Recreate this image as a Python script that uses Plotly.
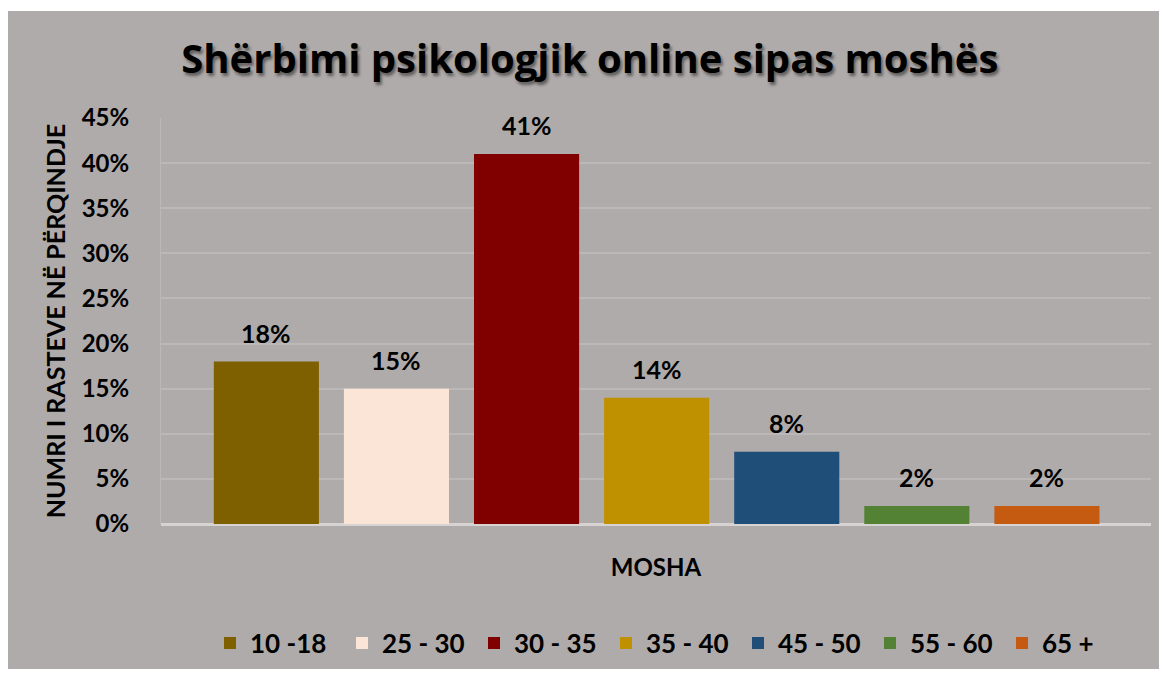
import plotly.graph_objects as go

# age groups and share of cases (%)
age_groups = ["10 -18", "25 - 30", "30 - 35", "35 - 40", "45 - 50", "55 - 60", "65 +"]
shares = [18, 15, 41, 14, 8, 2, 2]
colors = ["#7f6000", "#fbe5d6", "#800000", "#bf9000", "#1f4e79", "#548235", "#c55a11"]
y_ticks = [0, 5, 10, 15, 20, 25, 30, 35, 40, 45]

FONT = "Lato"
BG = "#afabaa"

# figure sits 8px in from the page corner (body margin)
W, H = 1159, 671
pl, pr, pt, pb = 153, 1143, 110, 516
pw, ph = pr - pl, pb - pt

fig = go.Figure()

for i, (name, val, col) in enumerate(zip(age_groups, shares, colors)):
    fig.add_trace(go.Bar(
        x=[i],
        y=[val],
        name=name,
        width=0.808,
        marker=dict(color=col, line=dict(width=0)),
        hoverinfo="name+y",
    ))
    # data label above each bar
    fig.add_annotation(
        x=i, y=val, text=f"{val}%",
        showarrow=False, yanchor="bottom", yshift=12,
        font=dict(family=FONT, size=25, color="black", weight="bold"),
    )

# grey chart area with white frame around it
fig.add_shape(
    type="rect", xref="paper", yref="paper", layer="below",
    x0=(-2 - pl) / pw, x1=(1152 - pl) / pw,
    y0=(pb - 661) / ph, y1=(pb - 3) / ph,
    fillcolor=BG, line=dict(width=0),
)

fig.update_layout(
    width=W,
    height=H,
    margin=dict(l=pl, r=W - pr, t=pt, b=H - pb),
    paper_bgcolor="white",
    plot_bgcolor="rgba(0,0,0,0)",
    barmode="overlay",
    title=dict(
        text="Shërbimi psikologjik online sipas moshës",
        x=0.502, xanchor="center", y=1 - 51 / H, yanchor="middle",
        font=dict(family="Open Sans", size=40, color="black", weight="bold",
                  shadow="2px 3px 3px rgba(0,0,0,0.45)"),
    ),
    xaxis=dict(
        range=[-0.81, 6.80],
        showticklabels=False,
        showgrid=False,
        zeroline=False,
        showline=False,
        title=dict(text="MOSHA", standoff=35,
                   font=dict(family=FONT, size=24, color="black", weight="bold")),
    ),
    yaxis=dict(
        range=[0, 45],
        tickvals=y_ticks,
        ticktext=[f"{t}%" for t in y_ticks],
        tickfont=dict(family=FONT, size=24, color="black", weight="bold"),
        ticks="outside", ticklen=26, tickcolor="rgba(0,0,0,0)",
        gridcolor="#bcb8b7", gridwidth=1.5,
        zeroline=True, zerolinecolor="#d6d3d2", zerolinewidth=3,
        showline=True, linecolor="#bcb8b7", linewidth=1,
        title=dict(text="NUMRI I RASTEVE NË PËRQINDJE", standoff=8,
                   font=dict(family=FONT, size=25, color="black", weight="bold")),
    ),
    showlegend=True,
    legend=dict(
        orientation="h",
        x=0.5 + 16 / pw, xanchor="center",
        y=(pb - 635) / ph, yanchor="middle",
        font=dict(family=FONT, size=26, color="black", weight="bold"),
        bgcolor="rgba(0,0,0,0)",
        itemclick=False,
        entrywidth=87,
        traceorder="normal",
    ),
)

fig.write_html("out.html")
